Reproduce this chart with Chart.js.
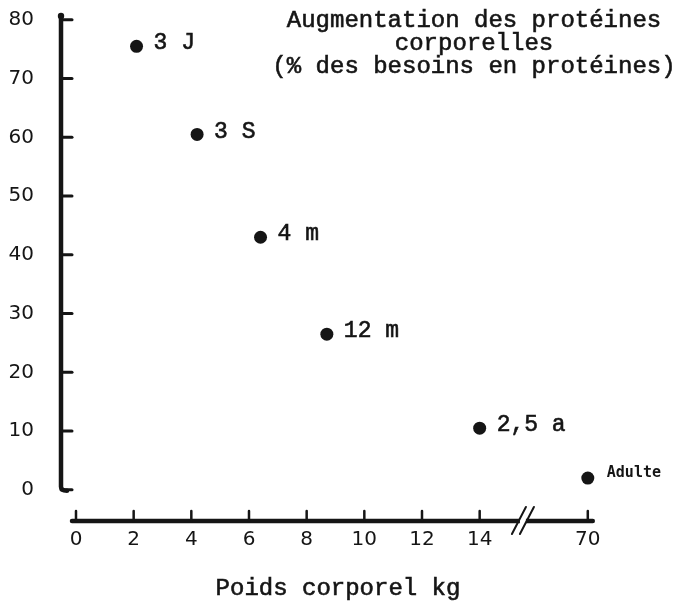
<!DOCTYPE html>
<html lang="fr">
<head>
<meta charset="utf-8">
<title>Augmentation des protéines corporelles</title>
<script src="https://cdn.jsdelivr.net/npm/chart.js@4.4.0/dist/chart.umd.min.js"></script>
<style>
  html, body { margin: 0; padding: 0; background: #fff; }
  #wrap { width: 681px; height: 604px; }
</style>
</head>
<body>
<div id="wrap"><canvas id="proteinChart" width="681" height="604"></canvas></div>
<script>
    // Data
    const ageLabels = ['3 J', '3 S', '4 m', '12 m', '2,5 a', 'Adulte'];
    const bodyWeightKg = [2.1, 4.2, 6.4, 8.7, 14, 70];
    const proteinGainPct = [75.5, 60.5, 43, 26.5, 10.5, 2];
    const xTickValues = [0, 2, 4, 6, 8, 10, 12, 14, 70];
    const yTickValues = [0, 10, 20, 30, 40, 50, 60, 70, 80];

    const titleLines = ['Augmentation des protéines', 'corporelles', '(% des besoins en protéines)'];
    const xAxisTitle = 'Poids corporel kg';

    const ink = '#151515';

    // Broken x axis: 0-14 kg linear, then a jump to 70 kg
    const BREAK_FROM = 14;
    const BREAK_MARK = 15.5;
    const ADULT_POS = 17.75;
    function axisPos(kg) {
      return kg <= BREAK_FROM ? kg : ADULT_POS + (kg - 70) * 0.02;
    }

    const points = bodyWeightKg.map((kg, i) => ({ x: axisPos(kg), y: proteinGainPct[i] }));

    // Axes drawn like the original: thick lines, ticks pointing inward, break marks
    const drawAxes = {
      id: 'drawAxes',
      beforeDatasetsDraw(chart) {
        const { ctx, chartArea, scales: { x, y } } = chart;
        const ax = chartArea.left;
        const ay = chartArea.bottom;
        ctx.save();
        ctx.strokeStyle = ink;
        ctx.fillStyle = ink;
        ctx.lineCap = 'round';

        // y axis with hook at the bottom
        const y0 = y.getPixelForValue(0);
        ctx.lineWidth = 4.5;
        ctx.beginPath();
        ctx.moveTo(ax, chartArea.top + 2);
        ctx.lineTo(ax, y0 - 3);
        ctx.quadraticCurveTo(ax, y0 + 1, ax + 6, y0 + 1);
        ctx.stroke();
        ctx.beginPath();
        ctx.arc(ax, chartArea.top + 2, 3.2, 0, Math.PI * 2);
        ctx.fill();

        ctx.lineWidth = 3;
        yTickValues.forEach(v => {
          const py = y.getPixelForValue(v);
          ctx.beginPath();
          ctx.moveTo(ax, py);
          ctx.lineTo(ax + 11, py);
          ctx.stroke();
        });

        // x axis
        const xStart = x.getPixelForValue(0) - 4;
        const xEnd = x.getPixelForValue(axisPos(70)) + 5;
        ctx.lineWidth = 4.5;
        ctx.beginPath();
        ctx.moveTo(xStart, ay);
        ctx.lineTo(xEnd, ay);
        ctx.stroke();

        ctx.lineWidth = 2.5;
        xTickValues.forEach(v => {
          const px = x.getPixelForValue(axisPos(v));
          ctx.beginPath();
          ctx.moveTo(px, ay);
          ctx.lineTo(px, ay - 10);
          ctx.stroke();
        });

        // break marks
        const bx = x.getPixelForValue(BREAK_MARK);
        ctx.fillStyle = '#fff';
        ctx.fillRect(bx - 3, ay - 4, 6, 8);
        ctx.lineWidth = 2;
        [-4, 4].forEach(d => {
          ctx.beginPath();
          ctx.moveTo(bx + d - 7, ay + 13);
          ctx.lineTo(bx + d + 7, ay - 14);
          ctx.stroke();
        });
        ctx.restore();
      }
    };

    // typewriter look: fill plus a thin stroke
    function typeText(ctx, text, x, y) {
      ctx.fillText(text, x, y);
      ctx.strokeText(text, x, y);
    }

    // Point labels, heading and x axis caption
    const drawTexts = {
      id: 'drawTexts',
      afterDatasetsDraw(chart) {
        const { ctx } = chart;
        const meta = chart.getDatasetMeta(0);
        ctx.save();
        ctx.fillStyle = ink;
        ctx.strokeStyle = ink;
        ctx.lineWidth = 0.6;
        ctx.textBaseline = 'middle';
        ctx.textAlign = 'left';
        meta.data.forEach((el, i) => {
          if (ageLabels[i] === 'Adulte') {
            ctx.font = 'bold 15px "DejaVu Sans Mono"';
            ctx.fillText(ageLabels[i], el.x + 19, el.y - 5);
          } else {
            ctx.font = '23px "Liberation Mono"';
            typeText(ctx, ageLabels[i], el.x + 17, el.y - 3);
          }
        });

        ctx.font = '24px "Liberation Mono"';
        ctx.textAlign = 'center';
        titleLines.forEach((line, i) => {
          typeText(ctx, line, 474, 21 + i * 23);
        });
        typeText(ctx, xAxisTitle, 338, 589);
        ctx.restore();
      }
    };

    const ctx = document.getElementById('proteinChart').getContext('2d');
    const proteinChart = new Chart(ctx, {
      type: 'scatter',
      data: {
        datasets: [{
          label: 'Augmentation des protéines corporelles',
          data: points,
          backgroundColor: ink,
          borderColor: ink,
          pointRadius: 6.5,
          pointHoverRadius: 6.5,
          borderWidth: 0
        }]
      },
      options: {
        responsive: false,
        animation: false,
        layout: {
          padding: { left: 0, right: 86, top: 14, bottom: 0 }
        },
        plugins: {
          legend: { display: false },
          tooltip: { enabled: false }
        },
        scales: {
          x: {
            type: 'linear',
            min: -0.52,
            max: 18,
            grid: { display: false, drawTicks: false },
            border: { display: false },
            afterBuildTicks: scale => {
              scale.ticks = xTickValues.map(v => ({ value: axisPos(v) }));
            },
            afterFit: scale => {
              scale.height = 83;
              scale.paddingLeft = 0;
              scale.paddingRight = 0;
            },
            ticks: {
              padding: 7,
              color: ink,
              font: { family: 'DejaVu Sans', size: 20 },
              autoSkip: false,
              maxRotation: 0,
              callback: value => {
                const kg = xTickValues.find(v => axisPos(v) === value);
                return kg === undefined ? '' : String(kg);
              }
            }
          },
          y: {
            type: 'linear',
            min: -5.3,
            max: 81,
            grid: { display: false, drawTicks: false },
            border: { display: false },
            afterBuildTicks: scale => {
              scale.ticks = yTickValues.map(v => ({ value: v }));
            },
            afterFit: scale => {
              scale.width = 61;
              scale.paddingTop = 0;
              scale.paddingBottom = 0;
            },
            ticks: {
              padding: 27,
              color: ink,
              font: { family: 'DejaVu Sans', size: 20 }
            }
          }
        }
      },
      plugins: [drawAxes, drawTexts]
    });
</script>
</body>
</html>
